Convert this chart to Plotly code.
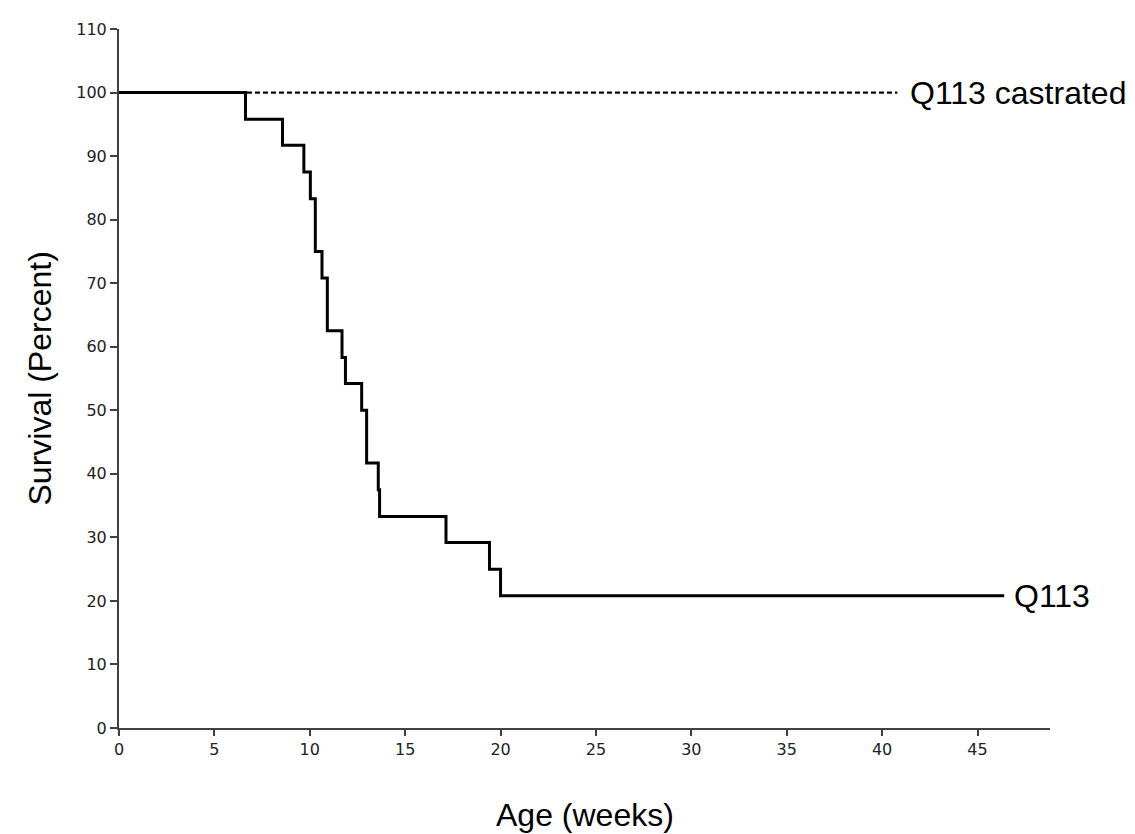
import plotly.graph_objects as go

# Kaplan-Meier data (weeks, percent survival)
q113_times = [0, 6.63, 8.57, 9.69, 10.03, 10.29, 10.64, 10.92, 11.69, 11.87,
              12.72, 12.98, 13.59, 13.66, 17.14, 19.42, 20.0, 46.4]
q113_surv = [100, 95.8, 91.7, 87.5, 83.3, 75.0, 70.8, 62.5, 58.3, 54.2,
             50.0, 41.7, 37.5, 33.3, 29.2, 25.0, 20.8, 20.8]
castr_times = [0, 40.8]
castr_surv = [100, 100]

x_ticks = [0, 5, 10, 15, 20, 25, 30, 35, 40, 45]
y_ticks = [0, 10, 20, 30, 40, 50, 60, 70, 80, 90, 100, 110]

big_font = dict(family="Liberation Sans, Arial", size=32, color="black")

fig = go.Figure()
fig.add_trace(go.Scatter(x=castr_times, y=castr_surv, mode="lines",
                         line=dict(color="black", width=2.2, dash="5px,3px"),
                         showlegend=False, hoverinfo="skip"))
fig.add_trace(go.Scatter(x=q113_times, y=q113_surv, mode="lines",
                         line=dict(color="black", width=3, shape="hv"),
                         showlegend=False, hoverinfo="skip"))

fig.add_annotation(x=castr_times[-1], y=castr_surv[-1], text="Q113 castrated",
                   showarrow=False, xanchor="left", yanchor="middle", xshift=11,
                   font=big_font)
fig.add_annotation(x=q113_times[-1], y=q113_surv[-1], text="Q113",
                   showarrow=False, xanchor="left", yanchor="middle", xshift=8,
                   font=big_font)

fig.add_annotation(x=0.5, y=0, xref="paper", yref="paper", text="Age (weeks)",
                   showarrow=False, xanchor="center", yanchor="middle", yshift=-87,
                   font=big_font)
fig.add_annotation(x=0, y=0.5, xref="paper", yref="paper", text="Survival (Percent)",
                   showarrow=False, xanchor="center", yanchor="middle", xshift=-80,
                   textangle=-90, font=big_font)

axis_common = dict(showline=True, linecolor="#404040", linewidth=2,
                   ticks="outside", tickcolor="#404040", tickwidth=1.5,
                   showgrid=False, zeroline=False,
                   tickfont=dict(family="DejaVu Sans", size=16, color="#222222"))
fig.update_xaxes(range=[0, 48.8], tickvals=x_ticks, ticklen=6, **axis_common)
fig.update_yaxes(range=[0, 110], tickvals=y_ticks, ticklen=7, **axis_common)

fig.update_layout(width=1135, height=834,
                  margin=dict(l=111, r=93, t=14, b=114),
                  plot_bgcolor="white", paper_bgcolor="white")

fig.write_html("out.html")
